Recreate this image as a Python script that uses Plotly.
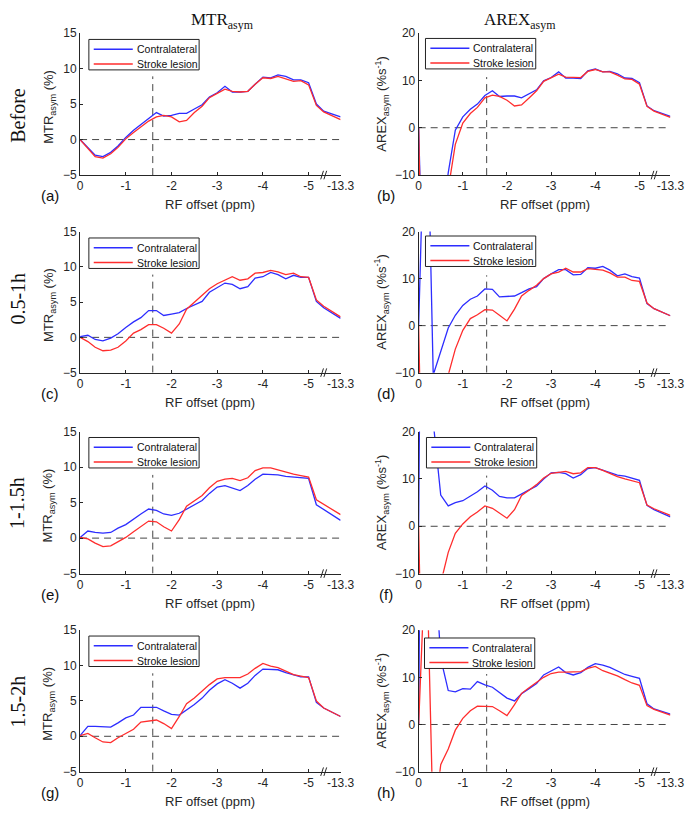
import plotly.graph_objects as go

# ---------------- data ----------------
OFFSETS = [0, -0.17, -0.33, -0.5, -0.67, -0.83, -1.0, -1.17, -1.33, -1.5, -1.67, -1.83,
           -2.0, -2.17, -2.33, -2.5, -2.67, -2.83, -3.0, -3.17, -3.33, -3.5, -3.67, -3.83,
           -4.0, -4.17, -4.33, -4.5, -4.67, -4.83, -5.0, -5.17, -5.33, -13.3]

TICK_VALS = [0, -1, -2, -3, -4, -5, -13.3]
TICK_TEXT = ["0", "-1", "-2", "-3", "-4", "-5", "-13.3"]

ROW_LABELS = ["Before", "0.5-1h", "1-1.5h", "1.5-2h"]
PANEL_LABELS = ["(a)", "(b)", "(c)", "(d)", "(e)", "(f)", "(g)", "(h)"]
SERIES_NAMES = ["Contralateral", "Stroke lesion"]

MTR_BEFORE_CONTRA = [0, -1.2, -2.2, -2.4, -1.8, -0.9, 0.3, 1.3, 2.1, 2.9, 3.8, 3.3,
                     3.4, 3.7, 3.7, 4.3, 4.9, 6.0, 6.6, 7.5, 6.7, 6.7, 6.8, 7.8,
                     8.8, 8.7, 9.1, 8.9, 8.4, 8.4, 8.0, 5.0, 4.0, 3.2]
MTR_BEFORE_LESION = [0, -1.3, -2.4, -2.6, -2.0, -1.1, 0.1, 1.0, 1.8, 2.6, 3.2, 3.4,
                     3.2, 2.5, 2.7, 3.8, 4.7, 5.9, 6.5, 7.1, 6.8, 6.7, 6.8, 7.8,
                     8.7, 8.6, 8.9, 8.6, 8.2, 8.3, 7.7, 4.8, 3.9, 2.8]
AREX_BEFORE_CONTRA = [0, -60, -40, -22, -9.5, -0.5, 2.3, 3.9, 5.0, 6.8, 7.8, 6.6,
                      6.7, 6.7, 6.3, 7.2, 8.0, 9.9, 10.6, 11.8, 10.5, 10.5, 10.4, 12.0,
                      12.4, 11.8, 11.9, 11.4, 10.5, 10.4, 9.5, 4.6, 3.6, 2.4]
AREX_BEFORE_LESION = [0, -80, -50, -25, -13, -3.5, 1.0, 3.0, 4.3, 6.3, 6.9, 6.6,
                      5.8, 4.6, 4.8, 6.3, 7.8, 9.8, 10.5, 11.3, 10.7, 10.7, 10.6, 11.9,
                      12.3, 11.8, 11.8, 11.1, 10.3, 10.2, 9.2, 4.5, 3.5, 2.2]

MTR_05_CONTRA = [0.1, 0.3, -0.3, -0.5, -0.1, 0.5, 1.4, 2.2, 2.8, 3.8, 3.8, 3.1,
                 3.3, 3.5, 4.1, 4.6, 5.1, 6.4, 7.1, 7.7, 7.5, 6.9, 7.2, 8.4,
                 8.6, 9.2, 8.9, 8.3, 8.8, 8.5, 8.5, 5.1, 4.2, 2.7]
MTR_05_LESION = [0, -0.6, -1.4, -1.9, -1.8, -1.4, -0.5, 0.6, 1.1, 1.8, 1.8, 1.3,
                 0.6, 1.9, 4.0, 5.0, 5.9, 6.9, 7.6, 8.1, 8.6, 8.1, 8.3, 9.1,
                 9.2, 9.5, 9.3, 8.9, 9.1, 8.6, 8.5, 5.3, 4.4, 2.9]
AREX_05_CONTRA = [0, 58, -10.5, -5.5, -0.5, 2.2, 4.3, 5.6, 6.3, 7.8, 7.7, 6.1,
                  6.2, 6.3, 7.0, 7.8, 8.3, 10.0, 11.0, 11.9, 11.9, 10.8, 10.9, 12.3,
                  12.2, 12.6, 11.8, 10.6, 11.0, 10.4, 10.1, 4.7, 3.6, 2.1]
AREX_05_LESION = [0, -80, -50, -25, -10.5, -5.0, -1.0, 1.5, 2.3, 3.4, 3.3, 2.2,
                  1.0, 3.5, 6.3, 7.5, 8.6, 10.0, 11.0, 11.4, 12.2, 11.4, 11.4, 12.1,
                  11.9, 11.8, 11.2, 10.3, 10.3, 9.6, 9.4, 4.8, 3.6, 2.1]

MTR_1_CONTRA = [0.1, 1.0, 0.8, 0.7, 0.8, 1.4, 1.9, 2.7, 3.4, 4.1, 3.9, 3.4,
                3.2, 3.5, 4.1, 4.7, 5.3, 6.3, 7.2, 7.4, 7.1, 6.7, 7.4, 8.3,
                9.0, 9.0, 8.9, 8.7, 8.6, 8.5, 8.4, 4.7, 4.0, 2.5]
MTR_1_LESION = [0.1, -0.1, -0.7, -1.2, -1.1, -0.5, 0.1, 0.9, 1.6, 2.4, 2.3, 1.6,
                1.0, 2.6, 4.5, 5.3, 6.0, 7.1, 8.0, 8.3, 8.4, 8.1, 8.5, 9.5,
                9.9, 9.9, 9.6, 9.3, 9.0, 8.8, 8.6, 5.4, 4.8, 3.3]
AREX_1_CONTRA = [0, 200, 22, 6.6, 4.3, 5.0, 5.4, 6.3, 7.3, 8.5, 7.6, 6.3,
                 6.0, 6.0, 6.9, 7.7, 8.5, 10.0, 11.3, 11.4, 11.1, 10.2, 10.9, 12.2,
                 12.4, 11.9, 11.3, 10.8, 10.6, 10.1, 9.7, 4.4, 3.5, 2.0]
AREX_1_LESION = [0, -80, -40, -12, -5.5, -1.5, 0.5, 2.0, 3.0, 4.3, 3.8, 2.7,
                 1.7, 3.5, 6.5, 7.6, 8.8, 10.2, 11.2, 11.4, 11.6, 11.1, 11.3, 12.4,
                 12.4, 11.8, 11.1, 10.5, 10.0, 9.6, 9.2, 4.5, 3.7, 2.3]

MTR_15_CONTRA = [0.1, 1.4, 1.4, 1.3, 1.3, 1.9, 2.6, 3.0, 4.1, 4.1, 4.1, 3.6,
                 3.1, 3.0, 3.7, 4.5, 5.4, 6.5, 7.4, 8.0, 7.5, 6.8, 7.5, 8.6,
                 9.5, 9.5, 9.4, 9.0, 8.7, 8.4, 8.4, 4.8, 4.0, 2.8]
MTR_15_LESION = [0.1, 0.4, -0.2, -0.8, -0.9, -0.2, 0.4, 1.0, 2.0, 2.1, 2.3, 1.8,
                 1.1, 2.8, 4.6, 5.4, 6.4, 7.3, 8.1, 8.3, 8.3, 8.3, 8.8, 9.6,
                 10.3, 9.9, 9.7, 9.2, 8.7, 8.5, 8.3, 5.0, 4.0, 2.8]
AREX_15_CONTRA = [0, 200, 40, 14, 7.2, 6.9, 7.6, 7.5, 9.1, 8.4, 7.9, 6.8,
                  5.6, 5.0, 6.5, 7.6, 8.7, 10.5, 11.3, 12.2, 11.0, 10.5, 11.0, 12.1,
                  12.9, 12.6, 12.1, 11.4, 10.6, 10.2, 9.8, 4.4, 3.3, 2.2]
AREX_15_LESION = [0, 40, -22, -8.5, -5.2, -1.2, 1.3, 2.9, 3.9, 3.8, 3.8, 2.9,
                  1.9, 4.2, 6.6, 7.8, 8.9, 10.0, 10.8, 11.1, 11.1, 11.2, 11.2, 11.9,
                  12.3, 11.4, 10.9, 10.3, 9.5, 8.8, 8.3, 4.0, 3.2, 2.0]

# reference markers
MTR_MARK_OFFSET = -1.59
AREX_MARK_OFFSET = -1.54
MTR_MARK_TOP = 8.9
AREX_MARK_TOP = 10.7

# ---------------- layout constants ----------------
W, H = 700, 817
BREAK_FROM = -5.5      # offsets beyond this are drawn after the axis break
BREAK_POS = -5.7       # axis position used for the far offset
BREAK_MARK = -5.33


def axis_pos(o):
    return o if o > BREAK_FROM else BREAK_POS


X = [axis_pos(o) for o in OFFSETS]
TICK_POS = [axis_pos(v) for v in TICK_VALS]

ROW_TOP = [26.5, 228.5, 432, 634]
ROW_BOT = [171, 372, 576.5, 778]
COL_L = [79, 426]
COL_R = [346, 684]
LEG_POS = [(88, 33), (433, 32), (88, 235), (433, 233), (88, 438), (434, 438), (88, 640), (432, 642)]
LEG_W, LEG_H = 113, 31

BLUE = "rgb(45,45,255)"
RED = "rgb(255,45,45)"
AX = "#262626"
SANS = "Liberation Sans, Arial, sans-serif"
SERIF = "Liberation Serif, Times New Roman, serif"

panels = [
    ("MTR", MTR_BEFORE_CONTRA, MTR_BEFORE_LESION),
    ("AREX", AREX_BEFORE_CONTRA, AREX_BEFORE_LESION),
    ("MTR", MTR_05_CONTRA, MTR_05_LESION),
    ("AREX", AREX_05_CONTRA, AREX_05_LESION),
    ("MTR", MTR_1_CONTRA, MTR_1_LESION),
    ("AREX", AREX_1_CONTRA, AREX_1_LESION),
    ("MTR", MTR_15_CONTRA, MTR_15_LESION),
    ("AREX", AREX_15_CONTRA, AREX_15_LESION),
]

fig = go.Figure()
layout = dict(width=W, height=H, margin=dict(l=0, r=0, t=0, b=0),
              paper_bgcolor="white", plot_bgcolor="white", showlegend=False)
shapes = []
annotations = []


def px(x):
    return x / W


def py(y):
    return 1 - y / H


def text(t, x, y, size, family=SANS, angle=0, xanchor="center", color=AX):
    annotations.append(dict(text=t, x=px(x), y=py(y), xref="paper", yref="paper",
                            xanchor=xanchor, yanchor="middle", showarrow=False,
                            textangle=angle, font=dict(family=family, size=size, color=color)))


for i, (kind, contra, lesion) in enumerate(panels):
    row, col = i // 2, i % 2
    n = i + 1
    xa = "x" if n == 1 else f"x{n}"
    ya = "y" if n == 1 else f"y{n}"
    xkey = "xaxis" if n == 1 else f"xaxis{n}"
    ykey = "yaxis" if n == 1 else f"yaxis{n}"

    series = ((SERIES_NAMES[0], contra, BLUE), (SERIES_NAMES[1], lesion, RED))
    for name, vals, color in series:
        fig.add_trace(go.Scatter(x=X, y=vals, mode="lines", name=name,
                                 line=dict(color=color, width=1.3),
                                 xaxis=xa, yaxis=ya, hoverinfo="skip"))

    layout[xkey] = dict(domain=[px(COL_L[col]), px(COL_R[col])], anchor=ya,
                        range=[0, BREAK_POS], tickmode="array", tickvals=TICK_POS,
                        ticktext=TICK_TEXT, ticks="inside", ticklen=3, tickcolor=AX,
                        showline=True, linecolor=AX, linewidth=1, showgrid=False,
                        zeroline=False, tickfont=dict(family=SANS, size=12, color=AX))
    if kind == "MTR":
        yr, yt = [-5, 15], [-5, 0, 5, 10, 15]
    else:
        yr, yt = [-10, 20], [-10, 0, 10, 20]
    layout[ykey] = dict(domain=[py(ROW_BOT[row]), py(ROW_TOP[row])], anchor=xa,
                        range=yr, tickmode="array", tickvals=yt,
                        ticks="inside", ticklen=3, tickcolor=AX,
                        showline=True, linecolor=AX, linewidth=1, showgrid=False,
                        zeroline=False, tickfont=dict(family=SANS, size=12, color=AX))

    # dashed reference lines
    dash = dict(color="rgb(70,70,70)", width=1, dash="7px,5px")
    shapes.append(dict(type="line", xref=xa, yref=ya, x0=0, x1=BREAK_POS, y0=0, y1=0,
                       line=dash, layer="below"))
    mx = MTR_MARK_OFFSET if kind == "MTR" else AREX_MARK_OFFSET
    mt = MTR_MARK_TOP if kind == "MTR" else AREX_MARK_TOP
    shapes.append(dict(type="line", xref=xa, yref=ya, x0=mx, x1=mx, y0=yr[0], y1=mt,
                       line=dash, layer="below"))
    # axis break marks
    for c in (BREAK_MARK + 0.035, BREAK_MARK - 0.035):
        shapes.append(dict(type="line", xref=xa, yref=f"{ya} domain",
                           x0=c + 0.03, x1=c - 0.03, y0=-0.03, y1=0.03,
                           line=dict(color=AX, width=1)))

    # legend box (MATLAB style)
    lx, ly = LEG_POS[i]
    shapes.append(dict(type="rect", xref="paper", yref="paper",
                       x0=px(lx), x1=px(lx + LEG_W), y0=py(ly + LEG_H), y1=py(ly),
                       fillcolor="white", line=dict(color="#222", width=1), layer="above"))
    for k, (name, vals, color) in enumerate(series):
        yy = ly + 10 + 15 * k
        shapes.append(dict(type="line", xref="paper", yref="paper",
                           x0=px(lx + 5), x1=px(lx + 45), y0=py(yy), y1=py(yy),
                           line=dict(color=color, width=1.5), layer="above"))
        text(name, lx + 47, yy, 10.5, xanchor="left", color="#111")

    # axis titles and panel label
    xc = (COL_L[col] + COL_R[col]) / 2
    text("RF offset (ppm)", xc, ROW_BOT[row] + 30, 13)
    yc = (ROW_TOP[row] + ROW_BOT[row]) / 2
    if kind == "MTR":
        text("MTR<sub>asym</sub> (%)", 47, yc + 3, 13, angle=-90)
    else:
        text("AREX<sub>asym</sub> (%s<sup>-1</sup>)", 388, yc, 13, angle=-90)
    text(PANEL_LABELS[i], 48 if col == 0 else 393, ROW_BOT[row] + 21, 15, color="#111")

# row labels
ROW_LABEL_Y = [110, 297, 505, 707]
for lab, yy in zip(ROW_LABELS, ROW_LABEL_Y):
    text(lab, 15, yy, 20, family=SERIF, angle=-90, color="#111")
# column titles
text("MTR<sub>asym</sub>", 225, 14, 17, family=SERIF, color="#111")
text("AREX<sub>asym</sub>", 530, 14, 17, family=SERIF, color="#111")

layout["shapes"] = shapes
layout["annotations"] = annotations
fig.update_layout(**layout)
fig.write_html("out.html")
